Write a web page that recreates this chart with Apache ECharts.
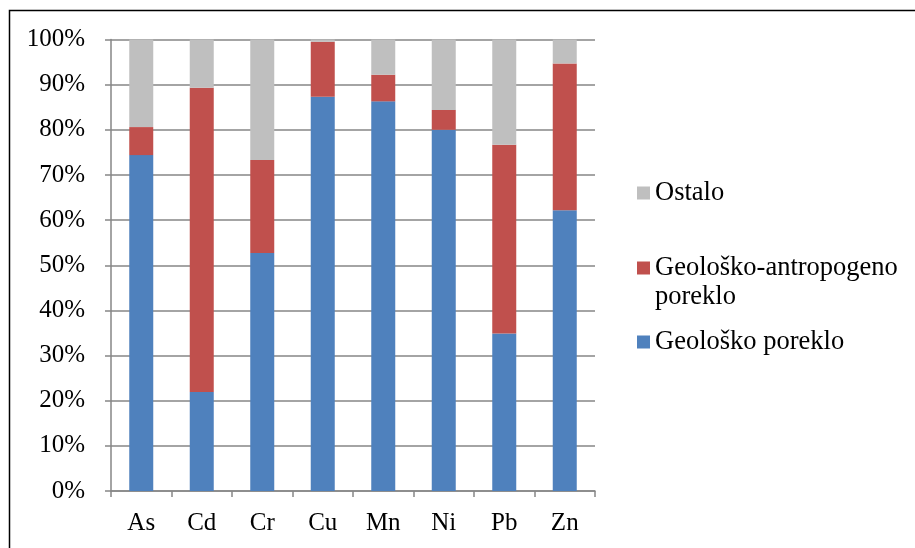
<!DOCTYPE html>
<html>
<head>
<meta charset="utf-8">
<script src="https://cdn.jsdelivr.net/npm/echarts@6/dist/echarts.min.js"></script>
<style>html,body{margin:0;padding:0;background:#fff}#c{width:915px;height:548px}</style>
</head>
<body>
<div id="c"></div>
<script>
const categories = ['As', 'Cd', 'Cr', 'Cu', 'Mn', 'Ni', 'Pb', 'Zn'];
const geoloskoPoreklo = [74.4, 21.9, 52.7, 87.3, 86.3, 80.0, 34.9, 62.2];
const geoAntropogeno = [6.2, 67.4, 20.6, 12.2, 5.9, 4.4, 41.8, 32.5];
const ostalo = [19.4, 10.7, 26.7, 0.5, 7.8, 15.6, 23.3, 5.3];
const yTicks = [0, 10, 20, 30, 40, 50, 60, 70, 80, 90, 100];

const FONT = '"Liberation Serif", "Times New Roman", serif';
const chart = echarts.init(document.getElementById('c'), null, {renderer: 'canvas'});
const legendBase = {
  orient: 'vertical', left: 637, itemWidth: 13, itemHeight: 13, icon: 'rect',
  selectedMode: false, padding: 0,
  textStyle: {fontFamily: FONT, fontSize: 26.5, color: '#000', lineHeight: 29}
};
chart.setOption({
  animation: false,
  backgroundColor: '#fff',
  graphic: [{
    type: 'rect', shape: {x: 9.5, y: 10.5, width: 1000, height: 1000},
    style: {fill: 'none', stroke: '#000', lineWidth: 1.5}, silent: true, z: -1
  }],
  grid: {left: 111, right: 320, top: 39.5, bottom: 57, containLabel: false},
  legend: [
    Object.assign({}, legendBase, {top: 178.5, data: ['Ostalo']}),
    Object.assign({}, legendBase, {top: 224.5, data: ['Geološko-antropogeno poreklo'],
      formatter: () => ' \nGeološko-antropogeno\nporeklo'}),
    Object.assign({}, legendBase, {top: 327.5, data: ['Geološko poreklo']})
  ],
  xAxis: {
    type: 'category', data: categories,
    axisLine: {lineStyle: {color: '#868686', width: 1.5}},
    axisTick: {show: true, length: 6, lineStyle: {color: '#868686', width: 1.5}},
    axisLabel: {fontFamily: FONT, fontSize: 25, color: '#000', margin: 20}
  },
  yAxis: {
    type: 'value', min: 0, max: 100, interval: 10,
    axisLine: {show: true, lineStyle: {color: '#868686', width: 1.5}},
    axisTick: {show: true, length: 6, lineStyle: {color: '#868686', width: 1.5}},
    splitLine: {lineStyle: {color: '#868686', width: 1.5}},
    axisLabel: {fontFamily: FONT, fontSize: 25, color: '#000', margin: 26,
      formatter: v => yTicks.includes(v) ? v + '%' : ''}
  },
  series: [
    {name: 'Geološko poreklo', type: 'bar', stack: 't', data: geoloskoPoreklo, barWidth: 24,
      itemStyle: {color: '#4F81BD'}},
    {name: 'Geološko-antropogeno poreklo', type: 'bar', stack: 't', data: geoAntropogeno, barWidth: 24,
      itemStyle: {color: '#C0504D'}},
    {name: 'Ostalo', type: 'bar', stack: 't', data: ostalo, barWidth: 24,
      itemStyle: {color: '#BFBFBF'}}
  ]
});
</script>
</body>
</html>
